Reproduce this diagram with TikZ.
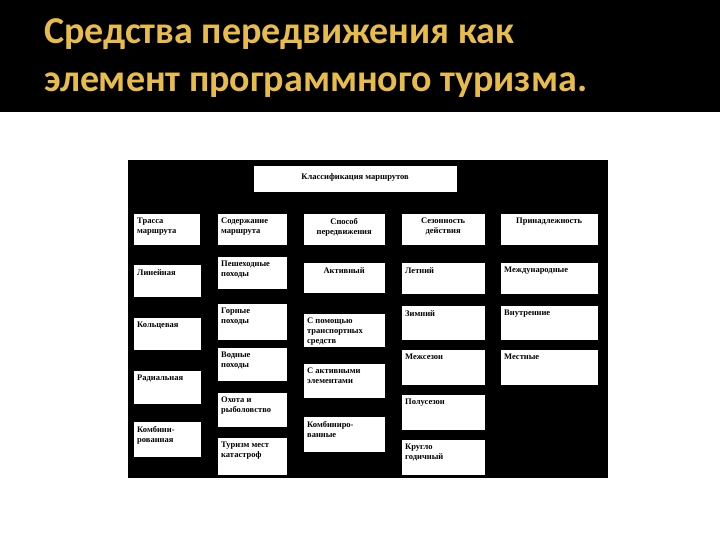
\documentclass[tikz,border=0pt]{standalone}
\usepackage{fontspec}
\setmainfont{Liberation Serif}
\newfontfamily\ttlfont{Carlito}
\definecolor{ttl}{HTML}{E8BC4A}
\begin{document}
\begin{tikzpicture}[x=1pt,y=-1pt,
  bx/.style={fill=white,draw=black,line width=0.3pt,anchor=north west,inner sep=0pt},
  tx/.style={anchor=north west,align=left,font=\bfseries\fontsize{8.5}{10}\selectfont,inner sep=4pt},
  tc/.style={anchor=north,align=center,font=\bfseries\fontsize{8.5}{10}\selectfont,inner sep=3pt}]
\useasboundingbox (0,0) rectangle (720,540);
\fill[white] (0,0) rectangle (720,540);
\fill[black] (0,0) rectangle (720,112);
\node[anchor=north west,align=left,text=ttl,font=\ttlfont\bfseries\fontsize{38}{48}\selectfont,inner sep=0pt] (title) at (44,18) {Средства передвижения как\\элемент программного туризма.};
\fill[black] (128,160) rectangle (608,478);
\newcommand{\bxx}[7]{%
  \node[bx,minimum width=#4-#2,minimum height=#5-#3] (#1) at (#2,#3) {};
  \node[#7] (#1t) at ([xshift=0pt,yshift=-1pt]#1.north west) {#6};}
\newcommand{\bxc}[6]{%
  \node[bx,minimum width=#4-#2,minimum height=#5-#3] (#1) at (#2,#3) {};
  \node[tc] (#1t) at ([yshift=-2pt]#1.north) {#6};}
% title
\node[bx,minimum width=204,minimum height=27] (cls) at (253,165) {};
\node[tc] (clst) at ([yshift=-5pt]cls.north) {Классификация маршрутов};
% headers
\bxx{h1}{133}{213}{200}{245}{Трасса\\маршрута}{tx}
\bxx{h2}{217}{213}{287}{245}{Содержание\\маршрута}{tx}
\bxc{h3}{303}{213}{385}{245}{Способ\\передвижения}
\bxc{h4}{401}{213}{485}{245}{Сезонность\\действия}
\bxc{h5}{500}{213}{598}{245}{Принадлежность}
% col1
\bxx{a1}{133}{264}{201}{297}{Линейная}{tx}
\bxx{a2}{133}{317}{201}{350}{Кольцевая}{tx}
\bxx{a3}{133}{370}{201}{404}{Радиальная}{tx}
\bxx{a4}{133}{421}{201}{457}{Комбини-\\рованная}{tx}
% col2
\bxx{b1}{217}{256}{287}{289}{Пешеходные\\походы}{tx}
\bxx{b2}{217}{303}{287}{340}{Горные\\походы}{tx}
\bxx{b3}{217}{347}{287}{381}{Водные\\походы}{tx}
\bxx{b4}{217}{392}{287}{427}{Охота и\\рыболовство}{tx}
\bxx{b5}{217}{437}{287}{475}{Туризм мест\\катастроф}{tx}
% col3
\bxc{c1}{303}{262}{385}{293}{Активный}
\bxx{c2}{303}{313}{385}{347}{С помощью\\транспортных\\средств}{tx}
\bxx{c3}{303}{363}{385}{398}{С активными\\элементами}{tx}
\bxx{c4}{303}{416}{385}{452}{Комбиниро-\\ванные}{tx}
% col4
\bxx{d1}{401}{262}{485}{294}{Летний}{tx}
\bxx{d2}{401}{305}{485}{340}{Зимний}{tx}
\bxx{d3}{401}{349}{485}{385}{Межсезон}{tx}
\bxx{d4}{401}{394}{485}{430}{Полусезон}{tx}
\bxx{d5}{401}{439}{485}{475}{Кругло\\годичный}{tx}
% col5
\bxx{e1}{500}{262}{598}{294}{Международные}{tx}
\bxx{e2}{500}{305}{598}{340}{Внутренние}{tx}
\bxx{e3}{500}{349}{598}{385}{Местные}{tx}
\end{tikzpicture}
\end{document}
